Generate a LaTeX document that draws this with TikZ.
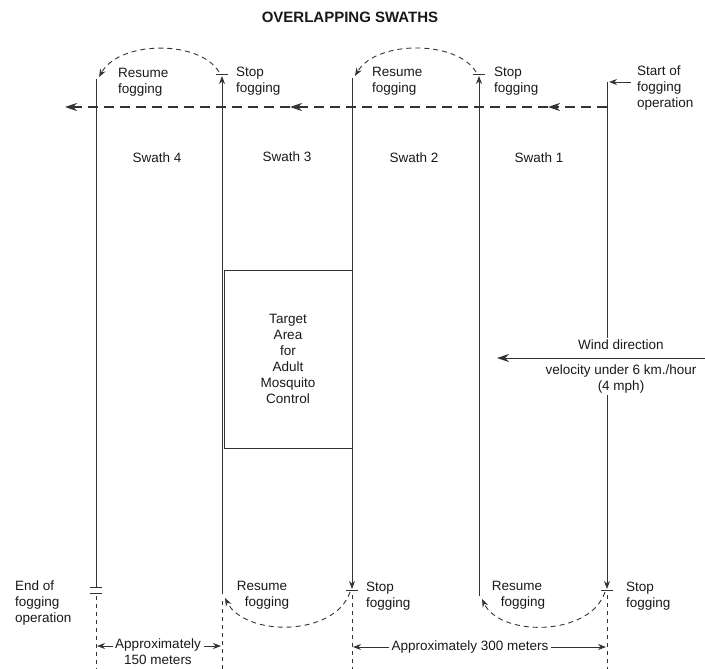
\documentclass[tikz,border=0pt]{standalone}
\usepackage{fontspec}
\setmainfont{Liberation Sans}
\usetikzlibrary{arrows.meta}
\begin{document}
\begin{tikzpicture}[x=1bp,y=-1bp,
  ln/.style={draw=black!80, line width=0.9bp},
  tipS/.style={-{Stealth[length=8bp,width=6bp]}},
  tipB/.style={-{Stealth[length=12bp,width=8bp]}},
  hdash/.style={ln, line width=1.1bp, dash pattern=on 10bp off 6bp},
  arcd/.style={ln, dash pattern=on 5bp off 4bp},
  vdash/.style={ln, line width=0.7bp, dash pattern=on 4bp off 4bp},
  lbl/.style={font=\fontsize{13.5bp}{16bp}\selectfont, text=black!90, inner sep=0pt, align=left},
  lblc/.style={lbl, align=center}
]
\useasboundingbox (0,0) rectangle (705,669);
\node[lbl, font=\fontsize{15bp}{16bp}\selectfont\bfseries] (title) at (350,17) {OVERLAPPING SWATHS};

% swath boundary coordinates
\coordinate (l1t) at (96,79);   \coordinate (l1b) at (96,587);
\coordinate (l2b) at (222,594); \coordinate (l2t) at (222,76);
\coordinate (l3t) at (352,78);  \coordinate (l3b) at (352,589);
\coordinate (l4b) at (479,596); \coordinate (l4t) at (479,76);
\coordinate (l5t) at (607,82);  \coordinate (l5b) at (607,589);

% solid swath lines
\draw[ln] (l1t) -- (l1b);
\draw[ln, tipS] (l2b) -- (l2t);
\draw[ln, tipS] (l3t) -- (l3b);
\draw[ln, tipS] (l4b) -- (l4t);
\draw[ln, tipS] (l5t) -- (l5b);

% stop bars
\coordinate (b2a) at (216,74); \coordinate (b2b) at (228,74);
\coordinate (b4a) at (473,74); \coordinate (b4b) at (485,74);
\coordinate (b3a) at (346,590); \coordinate (b3b) at (358,590);
\coordinate (b5a) at (601,590); \coordinate (b5b) at (613,590);
\coordinate (e1a) at (90,587); \coordinate (e1b) at (102,587);
\coordinate (e2a) at (90,593); \coordinate (e2b) at (102,593);
\draw[ln] (b2a) -- (b2b);
\draw[ln] (b4a) -- (b4b);
\draw[ln] (b3a) -- (b3b);
\draw[ln] (b5a) -- (b5b);
\draw[ln] (e1a) -- (e1b);
\draw[ln] (e2a) -- (e2b);

% horizontal dashed flight line
\coordinate (h0) at (607,107);
\coordinate (h1) at (548,107);
\coordinate (h2) at (290,107);
\coordinate (h3) at (65,107);
\draw[hdash, tipB] (h0) -- (h1);
\draw[hdash, tipB] (h1) -- (h2);
\draw[hdash, tipB] (h2) -- (h3);

% turning arcs
\coordinate (a1s) at (219,72); \coordinate (a1e) at (99,77);
\coordinate (a2s) at (476,72); \coordinate (a2e) at (355,76);
\coordinate (a3s) at (350,592); \coordinate (a3e) at (225,598);
\coordinate (a4s) at (605,592); \coordinate (a4e) at (482,599);
\draw[arcd, tipS] (a1s) .. controls (200,40) and (120,40) .. (a1e);
\draw[arcd, tipS] (a2s) .. controls (457,40) and (376,40) .. (a2e);
\draw[arcd, tipS] (a3s) .. controls (335,637) and (245,637) .. (a3e);
\draw[arcd, tipS] (a4s) .. controls (590,637) and (500,637) .. (a4e);

% dashed extensions
\coordinate (v1) at (96,596);  \coordinate (v1e) at (96,669);
\coordinate (v2) at (222,601); \coordinate (v2e) at (222,669);
\coordinate (v3) at (352,595); \coordinate (v3e) at (352,669);
\coordinate (v5) at (607,595); \coordinate (v5e) at (607,669);
\draw[vdash] (v1) -- (v1e);
\draw[vdash] (v2) -- (v2e);
\draw[vdash] (v3) -- (v3e);
\draw[vdash] (v5) -- (v5e);

% start arrow
\coordinate (st0) at (631,82); \coordinate (st1) at (609,82);
\draw[ln, tipS] (st0) -- (st1);

% top labels
\node[lbl, anchor=west] (r4) at (118,82) {Resume\\fogging};
\node[lbl, anchor=west] (s3) at (236,81) {Stop\\fogging};
\node[lbl, anchor=west] (r2) at (372,81) {Resume\\fogging};
\node[lbl, anchor=west] (s1) at (494,81) {Stop\\fogging};
\node[lbl, anchor=west] (start) at (637,88) {Start of\\fogging\\operation};

% swath labels
\node[lbl] (sw4) at (157,158) {Swath 4};
\node[lbl] (sw3) at (287,157) {Swath 3};
\node[lbl] (sw2) at (414,158) {Swath 2};
\node[lbl] (sw1) at (539,158) {Swath 1};

% target area
\node[lblc, draw=black!80, line width=0.9bp, minimum width=128bp, minimum height=178bp] (target) at (288,359) {Target\\Area\\for\\Adult\\Mosquito\\Control};

% wind
\fill[white] (560,338) rectangle (690,393);
\node[lblc, fill=white, inner sep=2bp] (wd) at (621,345) {Wind direction};
\node[lblc, fill=white, inner sep=2bp] (wv) at (621,379) {velocity under 6 km./hour\\(4 mph)};
\coordinate (w0) at (705,358); \coordinate (w1) at (497,358);
\draw[ln, tipB] (w0) -- (w1);

% bottom labels
\node[lbl, anchor=west] (end) at (15,603) {End of\\fogging\\operation};
\node[lblc] (r3) at (262,595) {Resume\\\hspace*{10bp}fogging};
\node[lbl, anchor=west] (s2) at (366,596) {Stop\\fogging};
\node[lblc] (r1) at (517,595) {Resume\\\hspace*{12bp}fogging};
\node[lbl, anchor=west] (s0) at (626,596) {Stop\\fogging};

% dimensions
\node[lblc] (t150) at (158,652) {Approximately\\150 meters};
\coordinate (d1l) at (97,646); \coordinate (d1r) at (221,646);
\coordinate (d1a) at (113,646); \coordinate (d1b) at (204,646);
\draw[ln, tipS] (d1a) -- (d1l);
\draw[ln, tipS] (d1b) -- (d1r);

\node[lblc] (t300) at (470,647) {Approximately 300 meters};
\coordinate (d2l) at (353,647); \coordinate (d2r) at (606,647);
\draw[ln, tipS] ([xshift=-2bp]t300.west) -- (d2l);
\draw[ln, tipS] ([xshift=2bp]t300.east) -- (d2r);
\end{tikzpicture}
\end{document}
